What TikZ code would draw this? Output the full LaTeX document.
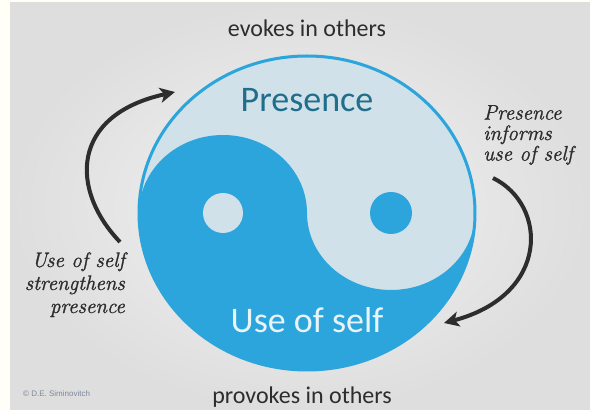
\documentclass[tikz,border=0pt]{standalone}
\usepackage{fontspec}
\setmainfont{Carlito}
\newfontfamily\handfont[ItalicFeatures={FakeBold=1.2}]{Latin Modern Roman}
\newfontfamily\notefont{Liberation Sans}
\usetikzlibrary{arrows.meta}

\definecolor{yinblue}{RGB}{43,165,219}
\definecolor{yanglight}{RGB}{208,225,233}
\definecolor{deepteal}{RGB}{32,110,140}
\definecolor{paleword}{RGB}{232,244,248}
\definecolor{inkgray}{RGB}{45,45,45}
\definecolor{bgin}{RGB}{243,243,243}
\definecolor{bgout}{RGB}{222,222,222}
\definecolor{notegray}{RGB}{125,135,155}

\tikzset{
  bigword/.style={font=\fontsize{36}{36}\selectfont, anchor=base, inner sep=0pt},
  edgeword/.style={font=\fontsize{24}{24}\selectfont, text=inkgray, anchor=base, inner sep=0pt},
  handword/.style={font=\handfont\itshape\fontsize{21}{#1}\selectfont, text=inkgray, inner sep=0pt},
  loop arrow/.style={draw=inkgray, line width=4pt,
    -{Stealth[length=15pt, width=15pt, inset=4pt]}}
}

\begin{document}
\begin{tikzpicture}[x=1pt,y=1pt]
\useasboundingbox (0,0) rectangle (590,410);
\fill[white!97!yellow] (0,0) rectangle (590,410);
\shade[inner color=bgin, outer color=bgout] (10,0) rectangle (590,407);

% the two halves
\fill[yanglight] (307,197) ellipse [x radius=168, y radius=157];
\fill[yinblue] (139,197) arc [start angle=180, end angle=360, x radius=168, y radius=157]
  arc [start angle=0, end angle=-180, x radius=84, y radius=77]
  arc [start angle=0, end angle=180, x radius=84, y radius=78] -- cycle;
\fill[yanglight] (223,197) circle [radius=20];
\fill[yinblue] (391,197) circle [radius=21];
\draw[yinblue, line width=3pt] (307,197) ellipse [x radius=168, y radius=157];

\draw (307,298) node[bigword, text=deepteal](presence) {Presence};
\draw (307,77) node[bigword, text=paleword](useofself) {Use of self};
\draw (307,373) node[edgeword](evokes) {evokes in others};
\draw (302,6) node[edgeword](provokes) {provokes in others};

\draw (125,158) node[handword=23, anchor=north east, align=right](strengthens) {Use of self\\strengthens\\presence};
\draw (483,305) node[handword=20.5, anchor=north west, align=left](informs) {Presence\\informs\\use of self};

\coordinate (lefttail) at (120,168);
\coordinate (lefttip) at (175,318);
\coordinate (righttail) at (493,232);
\coordinate (righttip) at (444,87);
\draw[loop arrow] (lefttail) .. controls (70,220) and (70,295) .. (lefttip);
\draw[loop arrow] (righttail) .. controls (548,205) and (550,115) .. (righttip);

\draw (23,13) node[anchor=base west, inner sep=0pt, text=notegray,
  font=\notefont\fontsize{8}{8}\selectfont](credit) {\textcopyright{} D.E. Siminovitch};
\end{tikzpicture}
\end{document}
